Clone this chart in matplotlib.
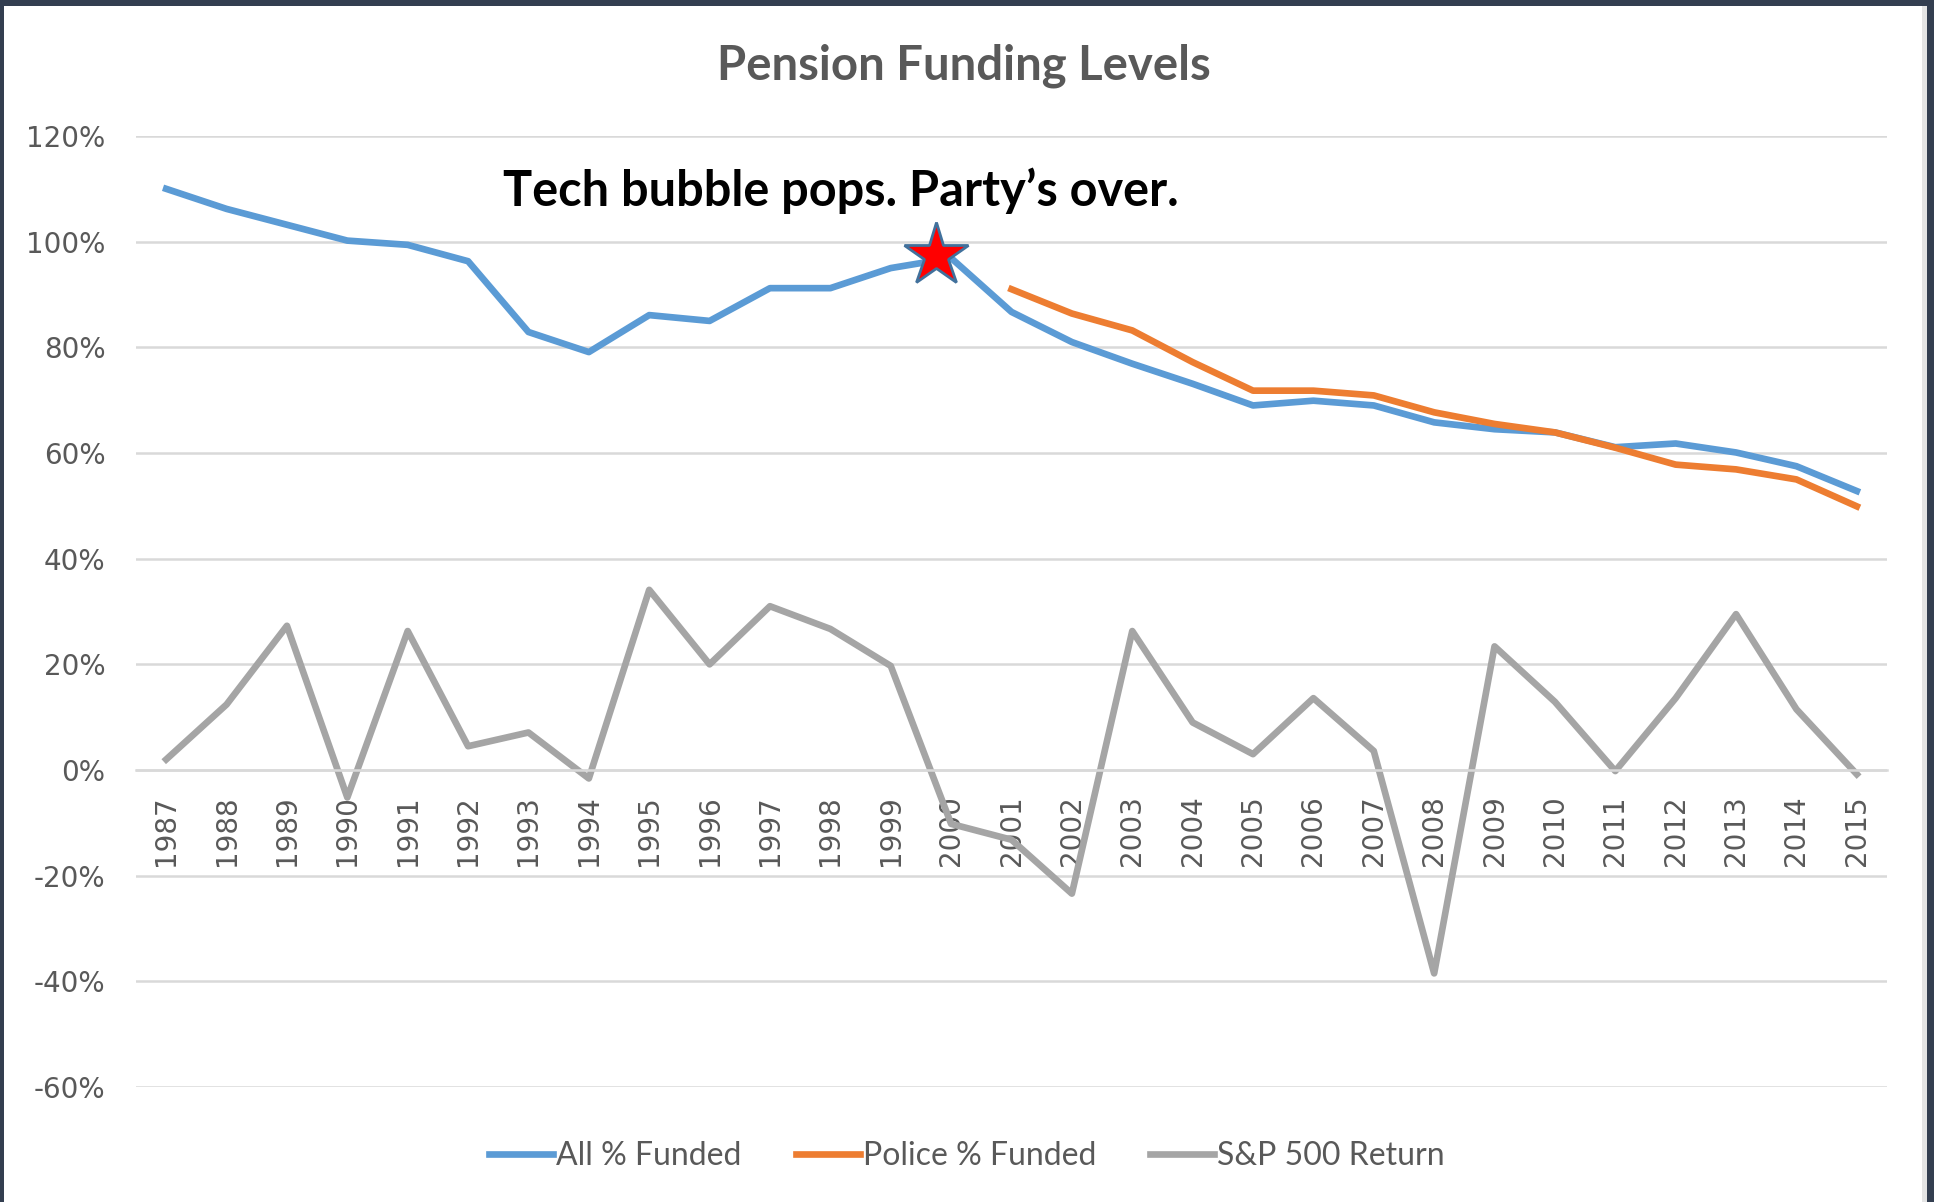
"""
plot.py - Pension funding levels vs. S&P 500 annual return, 1987-2015.
"""
import matplotlib
matplotlib.use('Agg')
import matplotlib.pyplot as plt
from matplotlib.patches import Rectangle


# ── Data ─────────────────────────────────────────────────────────────────────

years = list(range(1987, 2016))

# All plans, % funded [%]
all_funded = [110.0, 106.2, 103.2, 100.2, 99.4, 96.3, 82.9, 79.1, 86.1, 85.0,
              91.2, 91.2, 95.0, 96.9, 86.7, 81.0, 76.9, 73.1, 69.0, 69.9,
              69.0, 65.8, 64.5, 63.9, 61.1, 61.8, 60.1, 57.5, 52.8]

# Police plans, % funded [%] (series starts in 2001)
police_years = list(range(2001, 2016))
police_funded = [91.0, 86.4, 83.2, 77.2, 71.8, 71.8, 70.9, 67.7, 65.5, 63.9,
                 61.0, 57.8, 56.9, 55.0, 49.9]

# S&P 500 total return [%]
sp500_return = [2.0, 12.4, 27.3, -5.2, 26.3, 4.5, 7.1, -1.6, 34.1, 20.0,
                31.0, 26.7, 19.7, -10.2, -13.2, -23.4, 26.3, 9.0, 3.0, 13.6,
                3.6, -38.5, 23.4, 12.9, -0.2, 13.6, 29.5, 11.5, -0.8]

y_ticks = [-60, -40, -20, 0, 20, 40, 60, 80, 100, 120]
y_tick_labels = ['-60%', '-40%', '-20%', '0%', '20%', '40%', '60%', '80%',
                 '100%', '120%']

title = 'Pension Funding Levels'
note = 'Tech bubble pops. Party\u2019s over.'
note_year = 2000


# ── Style ────────────────────────────────────────────────────────────────────

C_BLUE   = '#5B9BD5'
C_ORANGE = '#ED7D31'
C_GREY   = '#A5A5A5'
C_GRID   = '#D9D9D9'
C_TEXT   = '#595959'
C_FRAME  = '#333E50'

W, H = 1934, 1202
DPI = 100
LW = 4.8


def px(x0, y0, x1, y1):
    """Pixel box (top-left origin) -> figure fraction [l, b, w, h]."""
    return [x0 / W, 1 - y1 / H, (x1 - x0) / W, (y1 - y0) / H]


# ── Figure ───────────────────────────────────────────────────────────────────

fig = plt.figure(figsize=(W / DPI, H / DPI), dpi=DPI, facecolor=C_FRAME)

# white chart panel inside the dark frame
fig.patches.append(Rectangle((4 / W, 0), (1922 - 4) / W, 1 - 6 / H,
                             transform=fig.transFigure, facecolor='white',
                             edgecolor='none', zorder=-10))
fig.patches.append(Rectangle((1922 / W, 0), 5 / W, 1 - 6 / H,
                             transform=fig.transFigure, facecolor='#E4E4E4',
                             edgecolor='none', zorder=-10))

ax = fig.add_axes(px(136, 136, 1887, 1087))
ax.set_facecolor('none')
ax.set_zorder(1)

x_all = list(range(len(years)))
x_pol = [years.index(y) for y in police_years]

l1, = ax.plot(x_all, all_funded, color=C_BLUE, lw=LW,
              solid_joinstyle='round', label='All % Funded', zorder=3)
l2, = ax.plot(x_pol, police_funded, color=C_ORANGE, lw=LW,
              solid_joinstyle='round', label='Police % Funded', zorder=3)
l3, = ax.plot(x_all, sp500_return, color=C_GREY, lw=LW,
              solid_joinstyle='round', label='S&P 500 Return', zorder=2)

# star on the 2000 peak
i_star = years.index(note_year)
ax.plot(i_star - 0.25, all_funded[i_star] + 0.6, marker='*', ms=48,
        markerfacecolor='#FF0000', markeredgecolor='#41719C', mew=2.0,
        zorder=5)

ax.text(0.4026, 0.942, note, transform=ax.transAxes, ha='center',
        va='center', fontsize=35, fontweight='bold', family='Lato',
        color='black')

# axes
ax.set_xlim(-0.5, len(years) - 0.5)
ax.set_ylim(-60, 120)
ax.set_yticks(y_ticks)
ax.set_yticklabels(y_tick_labels)
ax.set_xticks(x_all)
ax.set_xticklabels([str(y) for y in years])

ax.grid(True, axis='y', color=C_GRID, lw=1.8, zorder=0)
for s in ('top', 'right', 'left'):
    ax.spines[s].set_visible(False)
ax.spines['bottom'].set_position(('data', 0))
ax.spines['bottom'].set_color(C_GRID)
ax.spines['bottom'].set_linewidth(1.8)

ax.tick_params(axis='both', length=0, colors=C_TEXT, labelsize=20)
ax.tick_params(axis='x', pad=18, labelrotation=90)
ax.tick_params(axis='y', pad=22)

fig.text(964 / W, 1 - 66 / H, title, ha='center', va='center',
         fontsize=34, fontweight='bold', family='Lato', color=C_TEXT)

leg = fig.legend(handles=[l1, l2, l3], loc='center',
                 bbox_to_anchor=(967 / W, 1 - 1156 / H), ncol=3,
                 frameon=False, handlelength=2.0, handletextpad=0.1,
                 columnspacing=1.7, prop={'family': 'Lato', 'size': 23})
for t in leg.get_texts():
    t.set_color(C_TEXT)

fig.savefig('out.png', dpi=DPI, facecolor=fig.get_facecolor())
